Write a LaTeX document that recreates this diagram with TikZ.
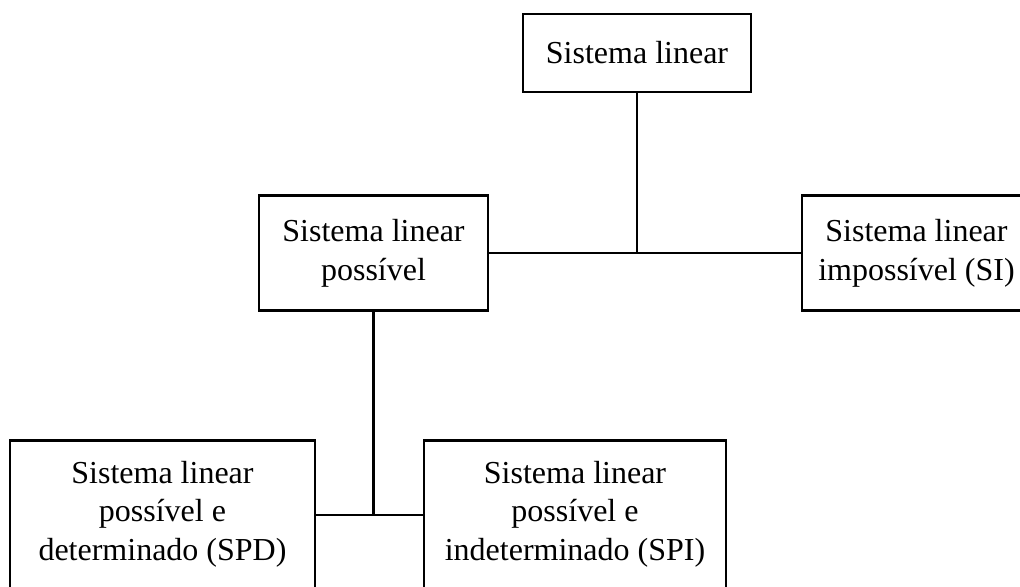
\documentclass[tikz,border=0pt]{standalone}
\usepackage{fontspec}
\setmainfont{Liberation Serif}
\begin{document}
\begin{tikzpicture}[x=0.75pt,y=-0.75pt,
  box/.style={draw,line width=1.9pt,align=center,inner sep=0pt,
    font=\fontsize{24pt}{29pt}\selectfont},
  topbox/.style={box,minimum width=171.75pt,minimum height=86.25pt},
  lowbox/.style={box,anchor=north,inner ysep=15.5pt,text depth=80pt},
  conn/.style={line width=1.9pt}]
\useasboundingbox (0,0) rectangle (1020,586);
\clip (0,0) rectangle (1020,586);
\node[box,minimum width=171pt,minimum height=58.5pt] (b1) at (637,53) {Sistema linear};
\node[topbox] (b2) at (373.5,253) {Sistema linear\\possível};
\node[topbox] (b3) at (916.5,253) {Sistema linear\\impossível (SI)};
\node[lowbox,minimum width=228.75pt] (b4) at (162.5,439) {Sistema linear\\possível e\\determinado (SPD)};
\node[lowbox,minimum width=226.5pt] (b5) at (575,439) {Sistema linear\\possível e\\indeterminado (SPI)};
\coordinate (j1) at (637,253);
\coordinate (j2) at (373.5,515);
\draw[conn] (b1.south) -- (j1);
\draw[conn] (b2.east) -- (b3.west);
\draw[conn] (b2.south) -- (j2);
\draw[conn] (j2 -| b4.east) -- (j2 -| b5.west);
\end{tikzpicture}
\end{document}
